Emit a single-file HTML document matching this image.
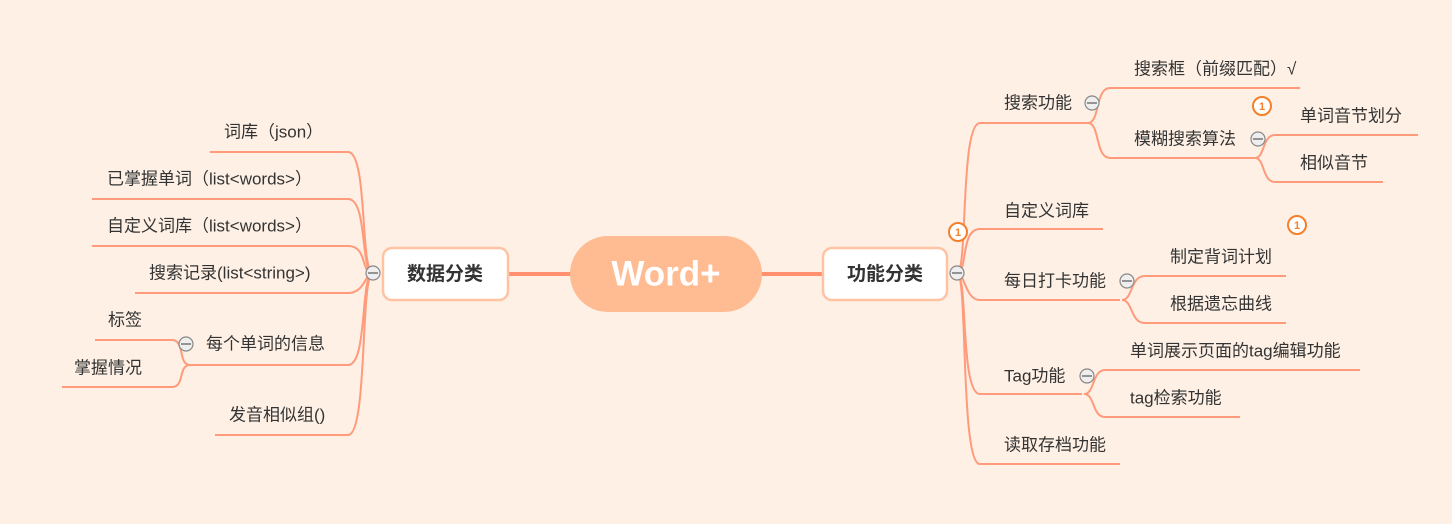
<!DOCTYPE html>
<html><head><meta charset="utf-8"><style>
body{margin:0;background:#fef0e5;}
svg{display:block}
text{font-family:"Liberation Sans","Noto Sans CJK SC",sans-serif;font-size:17px;fill:#333;dominant-baseline:middle}
.l{stroke:#ff9a7a;stroke-width:2;fill:none}
.c{fill:#eee;stroke:#888;stroke-width:1.2}
</style></head><body>
<svg width="1452" height="524" viewBox="0 0 1452 524">
<rect width="1452" height="524" fill="#fef0e5"/>
<path d="M508 274 H572 M760 274 H824" stroke="#ff9070" stroke-width="4"/>
<rect x="570" y="236" width="192" height="76" rx="38" fill="#ffbb92"/>
<text x="666" y="276" text-anchor="middle" style="font-size:35px;font-weight:bold;fill:#fff">Word+</text>
<rect x="383" y="248" width="125" height="52" rx="9" fill="#fff" stroke="#ffc3a3" stroke-width="2.5"/>
<text x="445" y="275" text-anchor="middle" style="font-size:19px;font-weight:bold">数据分类</text>
<rect x="823" y="248" width="124" height="52" rx="9" fill="#fff" stroke="#ffc3a3" stroke-width="2.5"/>
<text x="885" y="275" text-anchor="middle" style="font-size:19px;font-weight:bold">功能分类</text>

<g class="l">
<path d="M373 273 C360 273 368 152 348 152 H210"/>
<path d="M373 273 C360 273 368 199 348 199 H92"/>
<path d="M373 273 C360 273 368 246 348 246 H92"/>
<path d="M373 273 C365 273 365 293 348 293 H135"/>
<path d="M373 273 C360 273 368 365 348 365 H190"/>
<path d="M373 273 C360 273 368 435 348 435 H215"/>
<path d="M190 365 C178 365 185 340 172 340 H95"/>
<path d="M190 365 C178 365 185 387 172 387 H62"/>
</g>
<text x="224" y="133">词库（json）</text>
<text x="107" y="180">已掌握单词（list&lt;words&gt;）</text>
<text x="107" y="227">自定义词库（list&lt;words&gt;）</text>
<text x="149" y="274">搜索记录(list&lt;string&gt;)</text>
<text x="206" y="345">每个单词的信息</text>
<text x="108" y="321">标签</text>
<text x="74" y="369">掌握情况</text>
<text x="229" y="416">发音相似组()</text>
<circle class="c" cx="373" cy="273" r="7"/><path d="M368 273h10" stroke="#777" stroke-width="1.5"/>
<circle class="c" cx="186" cy="344" r="7"/><path d="M181 344h10" stroke="#777" stroke-width="1.5"/>

<g class="l">
<path d="M957 273 C968 273 960 123 980 123 H1090"/>
<path d="M957 273 C968 273 960 229 980 229 H1103"/>
<path d="M957 273 C965 273 965 300 980 300 H1120"/>
<path d="M957 273 C968 273 960 394 980 394 H1082"/>
<path d="M957 273 C968 273 960 464 980 464 H1120"/>
<path d="M1088 123 C1100 123 1095 88 1110 88 H1300"/>
<path d="M1088 123 C1100 123 1095 158 1110 158 H1255"/>
<path d="M1255 158 C1265 158 1262 135 1275 135 H1418"/>
<path d="M1255 158 C1265 158 1262 182 1275 182 H1383"/>
<path d="M1122 300 C1133 300 1130 276 1145 276 H1286"/>
<path d="M1122 300 C1133 300 1130 323 1145 323 H1286"/>
<path d="M1084 394 C1095 394 1092 370 1105 370 H1360"/>
<path d="M1084 394 C1095 394 1092 417 1105 417 H1240"/>
</g>
<text x="1004" y="104">搜索功能</text>
<text x="1134" y="70">搜索框（前缀匹配）√</text>
<text x="1134" y="140">模糊搜索算法</text>
<text x="1300" y="117">单词音节划分</text>
<text x="1300" y="164">相似音节</text>
<text x="1004" y="212">自定义词库</text>
<text x="1004" y="282">每日打卡功能</text>
<text x="1170" y="258">制定背词计划</text>
<text x="1170" y="305">根据遗忘曲线</text>
<text x="1004" y="377">Tag功能</text>
<text x="1130" y="352">单词展示页面的tag编辑功能</text>
<text x="1130" y="399">tag检索功能</text>
<text x="1004" y="446">读取存档功能</text>
<g>
<circle class="c" cx="957" cy="273" r="7"/><path d="M952 273h10" stroke="#777" stroke-width="1.5"/>
<circle class="c" cx="1092" cy="103" r="7"/><path d="M1087 103h10" stroke="#777" stroke-width="1.5"/>
<circle class="c" cx="1258" cy="139" r="7"/><path d="M1253 139h10" stroke="#777" stroke-width="1.5"/>
<circle class="c" cx="1127" cy="281" r="7"/><path d="M1122 281h10" stroke="#777" stroke-width="1.5"/>
<circle class="c" cx="1087" cy="376" r="7"/><path d="M1082 376h10" stroke="#777" stroke-width="1.5"/>
</g>
<g fill="#fff" stroke="#f57f2a" stroke-width="2">
<circle cx="958" cy="232" r="9"/><circle cx="1262" cy="106" r="9"/><circle cx="1297" cy="225" r="9"/>
</g>
<text x="958" y="233" text-anchor="middle" style="fill:#f57f2a;font-size:11px;font-weight:bold">1</text>
<text x="1262" y="107" text-anchor="middle" style="fill:#f57f2a;font-size:11px;font-weight:bold">1</text>
<text x="1297" y="226" text-anchor="middle" style="fill:#f57f2a;font-size:11px;font-weight:bold">1</text>
</svg>
</body></html>
